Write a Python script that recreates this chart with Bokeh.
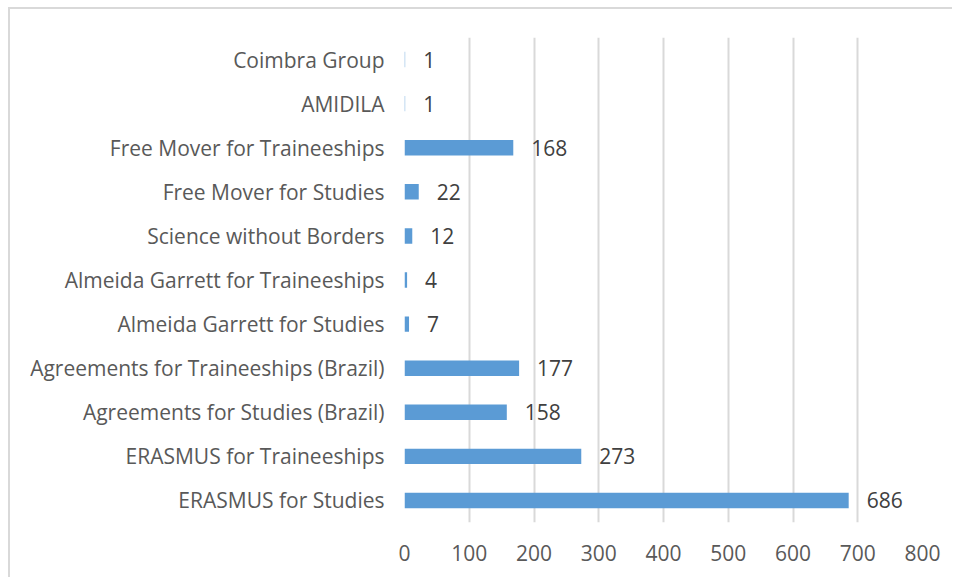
from bokeh.plotting import figure
from bokeh.models import ColumnDataSource, FixedTicker
from bokeh.core.properties import value
from bokeh.embed import file_html
from bokeh.resources import INLINE

categories = [
    "ERASMUS for Studies",
    "ERASMUS for Traineeships",
    "Agreements for Studies (Brazil)",
    "Agreements for Traineeships (Brazil)",
    "Almeida Garrett for Studies",
    "Almeida Garrett for Traineeships",
    "Science without Borders",
    "Free Mover for Studies",
    "Free Mover for Traineeships",
    "AMIDILA",
    "Coimbra Group",
]
counts = [686, 273, 158, 177, 7, 4, 12, 22, 168, 1, 1]
x_ticks = [0, 100, 200, 300, 400, 500, 600, 700, 800]

FONT = "Open Sans"
src = ColumnDataSource(dict(cat=categories, n=counts, lab=[str(v) for v in counts]))

p = figure(
    y_range=categories, x_range=(0, 800),
    frame_width=518, frame_height=485,
    min_border_left=394, min_border_top=28, min_border_right=30, min_border_bottom=55,
    output_backend="svg", toolbar_location=None,
)
p.hbar(y="cat", right="n", left=0, height=0.35, source=src,
       fill_color="#5B9BD5", line_color=None)
p.text(x="n", y="cat", text="lab", source=src, x_offset=18,
       text_baseline="middle", text_align="left",
       text_font=value(FONT), text_font_size="21px", text_color="#404040")

p.outline_line_color = None
p.ygrid.grid_line_color = None
p.xgrid.grid_line_color = "#D9D9D9"
p.xgrid.grid_line_width = 2
p.xaxis.ticker = FixedTicker(ticks=x_ticks)
for ax in (p.xaxis, p.yaxis):
    ax.axis_line_color = None
    ax.major_tick_line_color = None
    ax.minor_tick_line_color = None
    ax.major_label_text_font = FONT
    ax.major_label_text_font_size = "21px"
    ax.major_label_text_color = "#595959"
p.xaxis.major_label_standoff = 16
p.yaxis.major_label_standoff = 14
p.styles = {"margin-left": "8px", "margin-top": "7px",
            "border-left": "2px solid #D9D9D9", "border-top": "2px solid #D9D9D9"}

open("out.html", "w").write(file_html(p, INLINE))
